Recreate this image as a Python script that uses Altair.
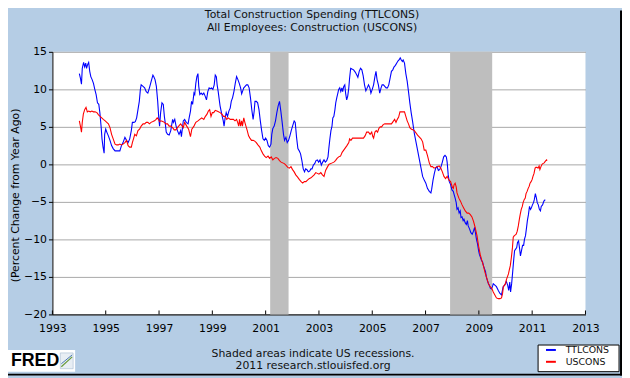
import altair as alt
import pandas as pd

# ---------------- data ----------------
ttl_years = [
    1994.01, 1994.05, 1994.09, 1994.12, 1994.17, 1994.21, 1994.25, 1994.28, 1994.32, 1994.36,
    1994.40, 1994.44, 1994.49, 1994.54, 1994.59, 1994.64, 1994.69, 1994.74, 1994.78, 1994.83,
    1994.86, 1994.90, 1994.94, 1994.96, 1995.00, 1995.04, 1995.10, 1995.16, 1995.22, 1995.28,
    1995.35, 1995.47, 1995.53, 1995.59, 1995.65, 1995.72, 1995.78, 1995.84, 1995.90, 1995.96,
    1996.00, 1996.06, 1996.11, 1996.16, 1996.21, 1996.26, 1996.30, 1996.33, 1996.40, 1996.46,
    1996.52, 1996.58, 1996.64, 1996.70, 1996.77, 1996.80, 1996.85, 1996.90, 1996.95, 1996.99,
    1997.02, 1997.06, 1997.11, 1997.16, 1997.20, 1997.23, 1997.27, 1997.32, 1997.38, 1997.44,
    1997.51, 1997.54, 1997.59, 1997.64, 1997.69, 1997.75, 1997.81, 1997.84, 1997.91, 1997.96,
    1998.02, 1998.09, 1998.13, 1998.18, 1998.22, 1998.26, 1998.31, 1998.34, 1998.38, 1998.42,
    1998.46, 1998.49, 1998.53, 1998.58, 1998.63, 1998.68, 1998.73, 1998.78, 1998.83, 1998.88,
    1998.92, 1998.97, 1999.02, 1999.07, 1999.11, 1999.15, 1999.18, 1999.22, 1999.26, 1999.29,
    1999.33, 1999.37, 1999.41, 1999.44, 1999.48, 1999.52, 1999.57, 1999.62, 1999.67, 1999.71,
    1999.76, 1999.81, 1999.86, 1999.91, 1999.96, 2000.01, 2000.06, 2000.10, 2000.13, 2000.18,
    2000.23, 2000.28, 2000.33, 2000.38, 2000.43, 2000.48, 2000.53, 2000.57, 2000.60, 2000.65,
    2000.70, 2000.75, 2000.80, 2000.85, 2000.90, 2000.95, 2001.00, 2001.05, 2001.10, 2001.15,
    2001.20, 2001.23, 2001.27, 2001.32, 2001.37, 2001.42, 2001.47, 2001.52, 2001.57, 2001.62,
    2001.67, 2001.71, 2001.76, 2001.81, 2001.86, 2001.91, 2001.96, 2002.01, 2002.07, 2002.11,
    2002.16, 2002.21, 2002.26, 2002.31, 2002.36, 2002.41, 2002.46, 2002.50, 2002.55, 2002.60,
    2002.65, 2002.70, 2002.74, 2002.79, 2002.84, 2002.89, 2002.94, 2002.99, 2003.04, 2003.09,
    2003.14, 2003.19, 2003.24, 2003.29, 2003.34, 2003.37, 2003.41, 2003.45, 2003.49, 2003.52,
    2003.56, 2003.60, 2003.63, 2003.67, 2003.71, 2003.74, 2003.78, 2003.82, 2003.86, 2003.89,
    2003.93, 2003.97, 2004.00, 2004.04, 2004.08, 2004.12, 2004.15, 2004.19, 2004.24, 2004.30,
    2004.36, 2004.42, 2004.46, 2004.51, 2004.56, 2004.61, 2004.66, 2004.71, 2004.76, 2004.81,
    2004.86, 2004.91, 2004.95, 2005.00, 2005.05, 2005.10, 2005.14, 2005.18, 2005.23, 2005.28,
    2005.33, 2005.37, 2005.42, 2005.47, 2005.52, 2005.57, 2005.62, 2005.67, 2005.72, 2005.77,
    2005.82, 2005.87, 2005.92, 2005.97, 2006.02, 2006.05, 2006.09, 2006.13, 2006.16, 2006.21,
    2006.26, 2006.31, 2006.36, 2006.41, 2006.46, 2006.51, 2006.58, 2006.64, 2006.70, 2006.77,
    2006.83, 2006.89, 2006.95, 2007.01, 2007.07, 2007.14, 2007.20, 2007.23, 2007.28, 2007.33,
    2007.38, 2007.43, 2007.48, 2007.53, 2007.58, 2007.63, 2007.68, 2007.73, 2007.78, 2007.81,
    2007.85, 2007.89, 2007.94, 2007.99, 2008.04, 2008.07, 2008.11, 2008.15, 2008.18, 2008.22,
    2008.26, 2008.30, 2008.33, 2008.37, 2008.41, 2008.44, 2008.49, 2008.53, 2008.57, 2008.60,
    2008.65, 2008.70, 2008.75, 2008.80, 2008.84, 2008.88, 2008.91, 2008.95, 2008.99, 2009.02,
    2009.06, 2009.10, 2009.14, 2009.17, 2009.21, 2009.25, 2009.28, 2009.32, 2009.36, 2009.39,
    2009.43, 2009.47, 2009.51, 2009.54, 2009.60, 2009.66, 2009.73, 2009.79, 2009.85, 2009.91,
    2009.97, 2010.03, 2010.08, 2010.12, 2010.16, 2010.19, 2010.23, 2010.27, 2010.31, 2010.34,
    2010.38, 2010.42, 2010.45, 2010.49, 2010.53, 2010.56, 2010.60, 2010.64, 2010.68, 2010.71,
    2010.75, 2010.79, 2010.82, 2010.86, 2010.90, 2010.94, 2010.97, 2011.01, 2011.05, 2011.08,
    2011.12, 2011.16, 2011.19, 2011.23, 2011.27, 2011.31, 2011.34, 2011.39, 2011.44, 2011.49,
]
ttl_values = [
    12.1, 11.5, 10.7, 12.8, 13.6, 13.0, 13.5, 12.8, 13.3, 13.6,
    12.4, 11.7, 11.3, 10.8, 10.0, 9.3, 8.2, 8.0, 6.9, 4.9,
    3.4, 2.3, 1.5, 4.0, 4.7, 4.3, 3.8, 3.2, 2.5, 2.1,
    1.8, 1.8, 1.8, 2.5, 2.9, 3.6, 3.2, 2.9, 3.4, 4.5,
    5.6, 5.6, 5.7, 6.2, 7.3, 8.4, 10.0, 10.6, 10.4, 10.2,
    9.7, 9.5, 10.2, 11.0, 11.9, 11.7, 11.3, 10.4, 8.4, 6.2,
    5.1, 6.9, 8.2, 8.0, 6.4, 5.6, 4.3, 4.0, 3.9, 4.5,
    6.0, 5.6, 6.0, 5.1, 4.5, 4.0, 4.5, 3.7, 5.8, 6.0,
    5.6, 5.4, 6.2, 7.1, 8.4, 8.0, 9.5, 9.3, 10.8, 11.7,
    12.1, 10.4, 9.3, 9.5, 9.3, 9.5, 9.1, 8.6, 9.7, 10.2,
    10.1, 10.2, 10.0, 10.6, 11.9, 11.7, 10.6, 9.7, 8.6, 7.8,
    7.1, 6.4, 5.8, 5.1, 6.2, 6.9, 6.4, 7.1, 7.5, 8.4,
    8.9, 9.7, 10.8, 11.7, 11.3, 10.8, 10.2, 9.4, 9.7, 10.2,
    10.4, 10.6, 10.6, 10.2, 8.9, 7.3, 6.0, 7.1, 8.4, 8.4,
    8.2, 7.3, 5.8, 4.5, 3.4, 3.2, 3.5, 3.2, 2.5, 2.3,
    2.7, 4.0, 4.8, 5.1, 5.8, 6.9, 7.8, 8.4, 7.1, 5.6,
    4.0, 3.2, 3.6, 2.9, 3.2, 3.8, 4.5, 5.1, 5.8, 5.6,
    3.6, 2.1, 1.8, 1.4, 0.5, -0.6, -1.0, -0.6, -0.7, -1.0,
    -0.9, -0.6, -0.6, -0.1, 0.1, 0.5, 0.6, 0.3, 0.6, -0.1,
    0.3, 0.6, 0.3, 0.5, 1.0, 2.1, 3.4, 4.5, 5.1, 6.2,
    6.4, 7.3, 8.2, 8.9, 9.5, 10.0, 10.2, 9.7, 10.2, 9.7,
    10.4, 10.6, 9.5, 8.6, 9.1, 10.2, 11.5, 12.8, 12.7, 12.6,
    12.3, 11.9, 11.6, 12.4, 12.8, 12.6, 11.8, 10.6, 9.8, 10.2,
    10.6, 10.2, 9.5, 10.0, 10.6, 11.7, 12.4, 11.3, 10.6, 9.5,
    10.2, 10.6, 10.6, 10.4, 10.2, 10.2, 10.6, 11.5, 12.4, 12.6,
    13.0, 13.2, 13.5, 13.8, 14.0, 14.2, 13.9, 13.7, 13.9, 13.5,
    12.1, 11.1, 9.7, 8.2, 6.9, 5.8, 4.1, 3.0, 1.9, 0.6,
    -0.5, -1.6, -2.1, -2.5, -3.2, -3.6, -3.8, -3.3, -2.1, -1.2,
    -0.5, -0.3, -0.8, -0.7, -0.3, 0.3, 1.0, 1.2, 1.0, 0.3,
    -1.4, -2.3, -2.7, -3.4, -3.6, -4.0, -4.5, -5.1, -6.0, -5.8,
    -6.5, -6.2, -7.1, -7.0, -7.5, -7.3, -7.8, -8.0, -7.5, -8.2,
    -8.6, -9.1, -9.3, -8.9, -8.4, -9.3, -10.0, -10.6, -11.5, -12.0,
    -12.4, -12.8, -13.0, -13.5, -13.9, -14.3, -15.0, -15.5, -15.9, -16.1,
    -16.5, -16.6, -16.3, -15.9, -16.1, -16.3, -16.8, -17.2, -17.4, -16.3,
    -16.1, -15.6, -16.1, -16.8, -15.7, -17.0, -15.9, -14.3, -12.6, -11.5,
    -11.3, -11.1, -10.4, -10.2, -11.3, -12.2, -11.5, -10.8, -10.8, -10.0,
    -9.5, -8.4, -7.5, -6.7, -5.6, -6.0, -5.8, -5.4, -5.1, -4.7,
    -3.9, -4.5, -5.1, -5.4, -6.0, -6.2, -5.6, -5.4, -4.9, -4.7,
]

us_years = [
    1994.01, 1994.05, 1994.09, 1994.12, 1994.16, 1994.21, 1994.26, 1994.31, 1994.36, 1994.42,
    1994.48, 1994.54, 1994.60, 1994.67, 1994.73, 1994.79, 1994.85, 1994.91, 1994.98, 1995.04,
    1995.10, 1995.16, 1995.22, 1995.28, 1995.35, 1995.41, 1995.47, 1995.53, 1995.59, 1995.65,
    1995.72, 1995.78, 1995.84, 1995.90, 1995.96, 1996.00, 1996.05, 1996.09, 1996.15, 1996.21,
    1996.27, 1996.33, 1996.40, 1996.46, 1996.52, 1996.58, 1996.64, 1996.70, 1996.77, 1996.83,
    1996.89, 1996.93, 1996.98, 1997.02, 1997.07, 1997.14, 1997.20, 1997.26, 1997.32, 1997.38,
    1997.44, 1997.51, 1997.57, 1997.63, 1997.69, 1997.81, 1997.91, 1997.96, 1998.04, 1998.11,
    1998.18, 1998.23, 1998.31, 1998.38, 1998.46, 1998.53, 1998.60, 1998.68, 1998.74, 1998.80,
    1998.85, 1998.90, 1998.95, 1999.00, 1999.05, 1999.11, 1999.17, 1999.23, 1999.29, 1999.36,
    1999.42, 1999.48, 1999.54, 1999.60, 1999.67, 1999.73, 1999.79, 1999.85, 1999.91, 1999.95,
    1999.99, 2000.02, 2000.06, 2000.10, 2000.13, 2000.18, 2000.22, 2000.26, 2000.31, 2000.36,
    2000.41, 2000.47, 2000.53, 2000.59, 2000.65, 2000.71, 2000.78, 2000.84, 2000.90, 2000.96,
    2001.02, 2001.09, 2001.15, 2001.21, 2001.27, 2001.33, 2001.39, 2001.46, 2001.52, 2001.58,
    2001.64, 2001.70, 2001.76, 2001.83, 2001.89, 2001.95, 2002.01, 2002.07, 2002.13, 2002.20,
    2002.26, 2002.33, 2002.39, 2002.45, 2002.51, 2002.57, 2002.63, 2002.70, 2002.76, 2002.82,
    2002.88, 2002.94, 2003.00, 2003.07, 2003.13, 2003.19, 2003.25, 2003.31, 2003.37, 2003.44,
    2003.50, 2003.56, 2003.62, 2003.68, 2003.74, 2003.81, 2003.87, 2003.93, 2003.99, 2004.05,
    2004.12, 2004.15, 2004.20, 2004.26, 2004.36, 2004.49, 2004.61, 2004.67, 2004.73, 2004.79,
    2004.86, 2004.92, 2004.98, 2005.02, 2005.05, 2005.10, 2005.15, 2005.20, 2005.25, 2005.30,
    2005.35, 2005.41, 2005.47, 2005.60, 2005.72, 2005.78, 2005.84, 2005.89, 2005.94, 2005.99,
    2006.04, 2006.09, 2006.15, 2006.21, 2006.26, 2006.31, 2006.36, 2006.41, 2006.46, 2006.52,
    2006.58, 2006.70, 2006.83, 2006.89, 2006.95, 2007.01, 2007.07, 2007.14, 2007.20, 2007.26,
    2007.32, 2007.38, 2007.44, 2007.51, 2007.57, 2007.63, 2007.69, 2007.75, 2007.81, 2007.88,
    2007.94, 2008.00, 2008.04, 2008.07, 2008.11, 2008.15, 2008.18, 2008.25, 2008.31, 2008.37,
    2008.43, 2008.49, 2008.56, 2008.62, 2008.68, 2008.74, 2008.80, 2008.86, 2008.93, 2008.99,
    2009.05, 2009.11, 2009.17, 2009.23, 2009.30, 2009.36, 2009.42, 2009.48, 2009.54, 2009.60,
    2009.66, 2009.73, 2009.79, 2009.85, 2009.89, 2009.92, 2009.96, 2010.00, 2010.03, 2010.07,
    2010.11, 2010.14, 2010.18, 2010.22, 2010.26, 2010.29, 2010.33, 2010.37, 2010.40, 2010.44,
    2010.48, 2010.52, 2010.55, 2010.59, 2010.63, 2010.66, 2010.70, 2010.74, 2010.77, 2010.81,
    2010.85, 2010.89, 2010.92, 2010.96, 2011.00, 2011.03, 2011.07, 2011.11, 2011.14, 2011.18,
    2011.22, 2011.26, 2011.29, 2011.33, 2011.37, 2011.40, 2011.45, 2011.49, 2011.54, 2011.56,
]
us_values = [
    5.8, 5.1, 4.3, 5.6, 6.7, 7.3, 7.6, 7.0, 7.1, 7.0,
    7.1, 7.0, 7.0, 6.9, 6.6, 6.4, 6.2, 6.0, 5.8, 5.6,
    5.4, 4.9, 4.0, 3.4, 2.7, 2.6, 2.6, 2.7, 2.6, 2.7,
    2.9, 3.2, 2.5, 2.3, 2.3, 2.9, 3.5, 4.0, 3.8, 4.5,
    4.7, 5.1, 5.4, 5.4, 5.6, 5.6, 5.4, 5.6, 5.7, 5.8,
    6.0, 6.2, 6.0, 5.7, 5.8, 5.7, 5.6, 5.4, 5.4, 5.1,
    5.1, 4.9, 4.6, 4.6, 4.9, 5.4, 4.9, 5.6, 5.1, 4.7,
    3.7, 4.7, 5.1, 5.6, 5.8, 6.0, 6.2, 6.0, 6.4, 6.7,
    7.1, 7.3, 6.4, 6.9, 6.9, 7.2, 7.1, 7.0, 6.9, 6.7,
    6.4, 6.4, 6.0, 6.2, 6.0, 6.0, 6.0, 5.8, 6.0, 5.6,
    5.1, 6.0, 5.1, 5.8, 5.1, 6.2, 5.6, 5.1, 4.5, 3.8,
    3.5, 3.2, 3.2, 3.1, 2.9, 2.6, 2.3, 1.8, 1.4, 1.1,
    0.9, 1.1, 0.8, 1.0, 0.6, 0.8, 0.9, 0.8, 0.5, 0.3,
    0.2, 0.1, -0.1, -0.4, -0.5, -0.3, -0.7, -1.0, -1.4, -1.7,
    -2.0, -2.3, -2.5, -2.3, -2.3, -2.1, -1.9, -1.8, -1.6, -1.4,
    -1.1, -1.2, -1.3, -1.1, -1.4, -1.6, -0.8, -0.4, 0.0, 0.1,
    0.2, 0.3, 0.5, 0.8, 1.0, 1.1, 1.6, 1.9, 2.2, 2.5,
    2.9, 3.4, 3.2, 3.5, 3.5, 3.5, 3.5, 3.5, 3.8, 4.3,
    4.3, 4.0, 4.3, 3.7, 3.5, 4.3, 4.5, 4.3, 4.8, 5.0,
    5.0, 5.3, 5.4, 5.4, 5.4, 5.7, 6.0, 5.6, 6.0, 6.3,
    7.0, 7.0, 7.0, 7.0, 6.4, 5.8, 5.4, 4.9, 4.7, 4.6,
    4.5, 3.9, 3.4, 3.0, 1.9, 1.9, 1.2, 0.2, -0.3, -0.3,
    -0.5, -0.4, -0.3, -0.2, -0.5, -1.0, -1.6, -1.9, -1.6, -2.1,
    -2.3, -3.0, -3.2, -2.7, -2.5, -3.0, -3.8, -4.5, -4.9, -5.4,
    -5.8, -6.2, -6.5, -6.5, -6.7, -7.0, -7.6, -8.4, -9.5, -10.9,
    -12.0, -12.8, -13.5, -14.4, -15.2, -15.9, -16.3, -16.5, -17.0, -17.4,
    -17.8, -17.9, -17.9, -17.8, -17.2, -16.3, -16.1, -15.9, -15.4, -15.0,
    -14.6, -14.1, -13.5, -12.4, -11.1, -9.7, -9.5, -9.4, -9.3, -8.9,
    -8.2, -7.3, -6.7, -6.0, -5.6, -5.1, -4.7, -4.5, -3.9, -3.6,
    -3.2, -2.9, -2.5, -2.3, -2.0, -1.6, -1.2, -0.5, -0.4, -0.4,
    -0.5, -0.2, -0.7, -0.3, 0.0, 0.1, 0.2, 0.4, 0.6, 0.5,
]

series_names = ["TTLCONS", "USCONS"]
series_colors = ["#0000FF", "#FF0000"]

rec_start = [2001.17, 2007.92]
rec_end = [2001.86, 2009.50]

x_ticks = [1993, 1995, 1997, 1999, 2001, 2003, 2005, 2007, 2009, 2011, 2013]
y_ticks = [-20, -15, -10, -5, 0, 5, 10, 15]

title_lines = ["Total Construction Spending (TTLCONS)", "All Employees: Construction (USCONS)"]
footer_lines = ["Shaded areas indicate US recessions.", "2011 research.stlouisfed.org"]
y_title = "(Percent Change from Year Ago)"

FONT = "DejaVu Sans"
W, H = 540, 266

# ---------------- build ----------------
df = pd.concat([
    pd.DataFrame({"year": ttl_years, "value": ttl_values, "series": series_names[0]}),
    pd.DataFrame({"year": us_years, "value": us_values, "series": series_names[1]}),
])
rec_df = pd.DataFrame({"start": rec_start, "end": rec_end})
tick_df = pd.DataFrame({"year": x_ticks})
one = pd.DataFrame({"a": [0]})

xscale = alt.Scale(domain=[1993, 2013], nice=False, zero=False)
yscale = alt.Scale(domain=[-20, 15], nice=False, zero=False)

x_axis = alt.Axis(values=x_ticks, format="d", title=None, grid=False, ticks=False,
                  labelFont=FONT, labelFontSize=11, labelColor="black",
                  labelFlush=False, labelOverlap=False,
                  domainColor="black", domainWidth=1, labelPadding=8)
y_axis = alt.Axis(values=y_ticks, title=y_title, grid=True, gridColor="#A8A8A8",
                  gridWidth=1, domainColor="black", tickColor="black", tickSize=4,
                  labelFont=FONT, labelFontSize=11, labelColor="black", labelPadding=2,
                  labelFlush=False,
                  titleFont=FONT, titleFontSize=11, titleFontWeight="normal",
                  titleColor="black", titleX=-37, titleY=145, titleAngle=270,
                  titleAlign="center", titleBaseline="middle")

recess = alt.Chart(rec_df).mark_rect(color="#BEBEBE").encode(
    x=alt.X("start:Q", scale=xscale, axis=x_axis),
    x2="end:Q",
    y=alt.value(0),
    y2=alt.value(H),
)

lines = alt.Chart(df).mark_line(strokeWidth=1.1).encode(
    x=alt.X("year:Q", scale=xscale, axis=x_axis),
    y=alt.Y("value:Q", scale=yscale, axis=y_axis),
    color=alt.Color("series:N", scale=alt.Scale(domain=series_names, range=series_colors),
                    legend=None),
)

xticks = alt.Chart(tick_df).mark_rule(color="black", strokeWidth=1).encode(
    x=alt.X("year:Q", scale=xscale, axis=x_axis),
    y=alt.value(H - 4),
    y2=alt.value(H),
)

def txt(s, x, y, size=11, align="center", weight="normal", color="#111111", font=FONT):
    return alt.Chart(one).mark_text(text=s, font=font, fontSize=size, align=align,
                                    baseline="middle", fontWeight=weight, color=color).encode(
        x=alt.value(x), y=alt.value(y))

titles = [txt(title_lines[0], 263, -37), txt(title_lines[1], 263, -24)]
footers = [txt(footer_lines[0], 264, 306), txt(footer_lines[1], 264, 318)]

legend_box = alt.Chart(one).mark_rect(fill="white", stroke="black", strokeWidth=1).encode(
    x=alt.value(492), x2=alt.value(574), y=alt.value(297), y2=alt.value(324))
leg_lines = [
    alt.Chart(one).mark_rule(color=series_colors[i], strokeWidth=2).encode(
        x=alt.value(500), x2=alt.value(510), y=alt.value(302 + 12 * i))
    for i in range(2)
]
leg_texts = [txt(series_names[i], 520, 302 + 12 * i, size=9.5, align="left") for i in range(2)]

fred_box = alt.Chart(one).mark_rect(fill="white").encode(
    x=alt.value(-45), x2=alt.value(23), y=alt.value(302), y2=alt.value(324))
fred_text = txt("FRED", -42, 313, size=18, align="left", weight="bold", color="black",
                font="Liberation Sans")
# small decorative chart icon of the FRED logo
icon_box = alt.Chart(one).mark_rect(fill="#E8EEF4", stroke="#9AB0C8", strokeWidth=0.5).encode(
    x=alt.value(8), x2=alt.value(21), y=alt.value(305), y2=alt.value(321))
icon_line1 = alt.Chart(one).mark_rule(color="#6A9A3A", strokeWidth=1.2).encode(
    x=alt.value(9), x2=alt.value(20), y=alt.value(319), y2=alt.value(309))
icon_line2 = alt.Chart(one).mark_rule(color="#4A78B0", strokeWidth=1).encode(
    x=alt.value(9), x2=alt.value(20), y=alt.value(316), y2=alt.value(307))

border_r = alt.Chart(one).mark_rule(color="black", strokeWidth=2).encode(
    x=alt.value(576), y=alt.value(-42), y2=alt.value(328))
border_b = alt.Chart(one).mark_rule(color="black", strokeWidth=2).encode(
    y=alt.value(327), x=alt.value(-45), x2=alt.value(577))

chart = alt.layer(
    recess, lines, xticks, *titles, *footers, legend_box, *leg_lines, *leg_texts,
    fred_box, fred_text, icon_box, icon_line1, icon_line2, border_r, border_b,
).properties(
    width=W, height=H,
    padding={"left": 45, "top": 42, "right": 37, "bottom": 62},
    autosize=alt.AutoSizeParams(type="none"),
).configure(
    background="#B5CDE5",
).configure_view(
    stroke=None, fill="white",
)

chart.save("out.html", embed_options={"renderer": "svg", "actions": False})
